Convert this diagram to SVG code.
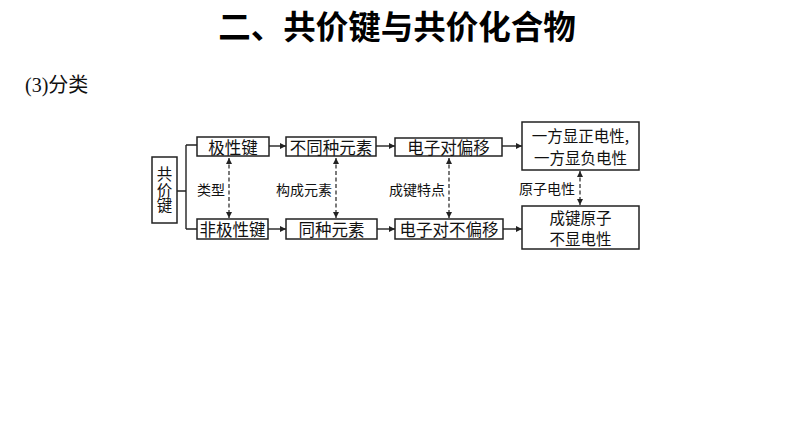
<svg xmlns="http://www.w3.org/2000/svg" width="794" height="447" viewBox="0 0 794 447">
<style>
.box{fill:#fff;stroke:#222;stroke-width:1.5}
.t{font-family:"Noto Sans CJK SC","Liberation Sans",sans-serif;font-size:16.5px;fill:#111;text-anchor:middle;dominant-baseline:central}
.t2{font-family:"Noto Sans CJK SC","Liberation Sans",sans-serif;font-size:15.5px;fill:#111;text-anchor:middle;dominant-baseline:central}
.lbl{font-family:"Noto Sans CJK SC","Liberation Sans",sans-serif;font-size:14px;fill:#111;text-anchor:middle;dominant-baseline:central}
.ln{fill:none;stroke:#222;stroke-width:1.4}
.dash{fill:none;stroke:#222;stroke-width:1.2;stroke-dasharray:4 2.5}
</style>
<defs>
<marker id="ah" viewBox="0 0 10 10" refX="10" refY="5" markerWidth="7" markerHeight="6" orient="auto-start-reverse" markerUnits="userSpaceOnUse">
<path d="M0,0 L10,5 L0,10 Z" fill="#222"/>
</marker>
</defs>
<rect width="794" height="447" fill="#fff"/>
<text x="397" y="24" font-family="'Noto Sans CJK SC','Liberation Sans',sans-serif" font-size="32.5" font-weight="bold" text-anchor="middle" dominant-baseline="central" fill="#000">二、共价键与共价化合物</text>
<text x="25" y="92" font-family="'Liberation Serif','Noto Sans CJK SC',serif" font-size="20" fill="#111">(3)<tspan font-family="'Noto Sans CJK SC',sans-serif">分类</tspan></text>

<g id="connectors">
<path class="ln" d="M177,191 H186 M186,145 V229 M186,145 H197 M186,229 H197"/>
<line class="ln" x1="269" y1="146" x2="286" y2="146" marker-end="url(#ah)"/>
<line class="ln" x1="376" y1="146" x2="395" y2="146" marker-end="url(#ah)"/>
<line class="ln" x1="502" y1="146" x2="522" y2="146" marker-end="url(#ah)"/>
<line class="ln" x1="268" y1="229" x2="286" y2="229" marker-end="url(#ah)"/>
<line class="ln" x1="377" y1="229" x2="395" y2="229" marker-end="url(#ah)"/>
<line class="ln" x1="503" y1="229" x2="522" y2="229" marker-end="url(#ah)"/>
<line class="dash" x1="229" y1="158" x2="229" y2="218" marker-start="url(#ah)" marker-end="url(#ah)"/>
<line class="dash" x1="336" y1="158" x2="336" y2="218" marker-start="url(#ah)" marker-end="url(#ah)"/>
<line class="dash" x1="449" y1="158" x2="449" y2="218" marker-start="url(#ah)" marker-end="url(#ah)"/>
<line class="dash" x1="580" y1="171" x2="580" y2="205" marker-start="url(#ah)" marker-end="url(#ah)"/>
<text class="lbl" x="211" y="189">类型</text>
<text class="lbl" x="304" y="189">构成元素</text>
<text class="lbl" x="417" y="189">成键特点</text>
<text class="lbl" x="547" y="188">原子电性</text>
</g>

<g id="n-gjj">
<rect class="box" x="152" y="157" width="25" height="66"/>
<text x="164.5" y="190" writing-mode="vertical-rl" font-family="'Noto Sans CJK SC','Liberation Sans',sans-serif" font-size="15.5" fill="#111" text-anchor="middle">共价键</text>
</g>
<g id="n-jxj">
<rect class="box" x="197" y="137" width="72" height="19"/>
<text class="t" x="233" y="146.5">极性键</text>
</g>
<g id="n-btz">
<rect class="box" x="286" y="137" width="90" height="19"/>
<text class="t" x="331" y="146.5">不同种元素</text>
</g>
<g id="n-dzpy">
<rect class="box" x="395" y="138" width="107" height="18"/>
<text class="t" x="448.5" y="147">电子对偏移</text>
</g>
<g id="n-yf">
<rect class="box" x="522" y="122" width="117" height="48"/>
<text class="t2" x="580.5" y="135">一方显正电性,</text>
<text class="t2" x="580.5" y="157">一方显负电性</text>
</g>
<g id="n-fjxj">
<rect class="box" x="197" y="219" width="71" height="20"/>
<text class="t" x="232.5" y="229">非极性键</text>
</g>
<g id="n-tz">
<rect class="box" x="286" y="219" width="91" height="20"/>
<text class="t" x="331.5" y="229">同种元素</text>
</g>
<g id="n-dzbpy">
<rect class="box" x="395" y="219" width="108" height="20"/>
<text class="t" x="449" y="229">电子对不偏移</text>
</g>
<g id="n-cj">
<rect class="box" x="522" y="206" width="117" height="43"/>
<text class="t2" x="580.5" y="216.5">成键原子</text>
<text class="t2" x="580.5" y="238">不显电性</text>
</g>
</svg>
